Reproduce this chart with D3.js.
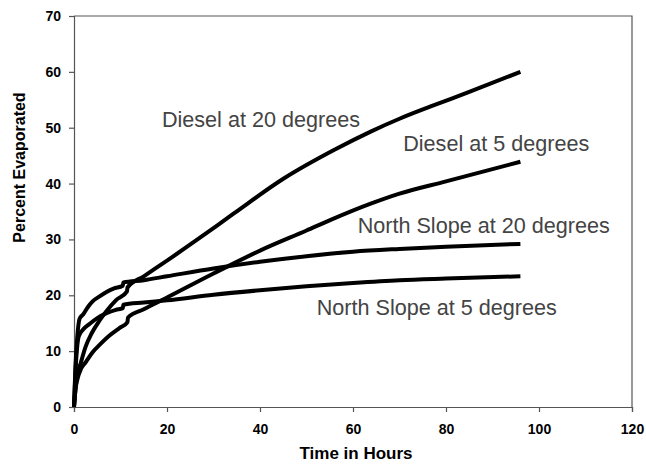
<!DOCTYPE html>
<html>
<head>
<meta charset="utf-8">
<script src="https://cdn.jsdelivr.net/npm/d3@7"></script>
<style>
  body { margin: 0; background: #fff; }
  text { font-family: Arial, "Liberation Sans", sans-serif; }
</style>
</head>
<body>
<svg id="svg1" width="646" height="464"></svg>
<script>
"use strict";

// values (hours, percent evaporated)
// a repeated-ish hour is where the two data sets were joined (the little kink near 11 h)
const diesel20Hours = [0, 0.3, 0.6, 1.5, 2.5, 3.8, 5.5, 7, 9, 11.4, 11.5, 15, 20, 26.4, 34.3, 45.1, 55.9, 63.8, 70, 76.7, 85, 96];
const diesel20Pct   = [0, 3, 5.2, 8, 10.8, 13.2, 15.5, 17.2, 19.1, 20.7, 21.4, 23.4, 26.2, 29.9, 34.6, 40.9, 46.0, 49.3, 51.6, 53.8, 56.4, 60.0];

const diesel5Hours = [0, 0.3, 0.8, 1.5, 2.5, 4, 5.6, 7.5, 9.9, 11.5, 11.6, 15, 20, 30, 40, 50, 55.2, 63.8, 70, 80, 96];
const diesel5Pct   = [0, 3, 5.2, 6.8, 8, 9.8, 11.2, 12.7, 14.2, 15.2, 16.0, 17.5, 19.6, 23.9, 28.0, 31.6, 33.5, 36.4, 38.2, 40.4, 43.9];

const northSlope20Hours = [0, 0.3, 0.7, 1.2, 2, 3, 4, 5.5, 7, 8.5, 10.5, 10.6, 15, 20, 30, 40, 50, 60, 70, 80, 96];
const northSlope20Pct   = [0, 7, 12.5, 15.8, 16.6, 17.9, 18.9, 19.8, 20.6, 21.2, 21.7, 22.3, 22.7, 23.4, 24.8, 26.0, 27.0, 27.8, 28.3, 28.7, 29.2];

const northSlope5Hours = [0, 0.3, 0.6, 1, 2, 3.4, 5, 7, 9, 10.5, 10.6, 15, 20, 30, 40, 50, 60, 70, 80, 96];
const northSlope5Pct   = [0, 6, 10, 12.6, 13.9, 14.9, 15.9, 16.8, 17.4, 17.7, 18.3, 18.7, 19.1, 20.1, 20.9, 21.6, 22.2, 22.7, 23.0, 23.4];

const seriesNames = ["Diesel at 20 degrees", "Diesel at 5 degrees", "North Slope at 20 degrees", "North Slope at 5 degrees"];
const xTicks = [0, 20, 40, 60, 80, 100, 120];
const yTicks = [0, 10, 20, 30, 40, 50, 60, 70];

const seriesHours = [diesel20Hours, diesel5Hours, northSlope20Hours, northSlope5Hours];
const seriesPct   = [diesel20Pct, diesel5Pct, northSlope20Pct, northSlope5Pct];

// where the in-plot labels sit (hours, percent) - placed by eye
const labelAt = [[18.9, 50.1], [70.8, 45.9], [61, 31.2], [52.2, 16.5]];

const svg    = d3.select("#svg1"),
      margin = {top: 16, right: 14, bottom: 57, left: 74},
      width  = +svg.attr("width")  - margin.left - margin.right,
      height = +svg.attr("height") - margin.top  - margin.bottom,
      x      = d3.scaleLinear().domain([0, 120]).range([0, width]),
      y      = d3.scaleLinear().domain([0, 70]).range([height, 0]),
      g      = svg.append("g").attr("transform", `translate(${margin.left},${margin.top})`);

// box round the plot (top + right edges)
g.append("path")
  .attr("d", `M0,0H${width}V${height}`)
  .attr("fill", "none")
  .attr("stroke", "#555")
  .attr("stroke-width", 1.2);

const xAxis = g.append("g")
  .attr("transform", `translate(0,${height})`)
  .call(d3.axisBottom(x).tickValues(xTicks).tickSize(5).tickPadding(12));

const yAxis = g.append("g")
  .call(d3.axisLeft(y).tickValues(yTicks).tickSize(5).tickPadding(8));

[xAxis, yAxis].forEach(a => {
  a.select(".domain").attr("stroke", "#555").attr("stroke-width", 1.2);
  a.selectAll(".tick line").attr("stroke", "#555").attr("stroke-width", 1.2);
  a.selectAll(".tick text")
    .attr("fill", "#000")
    .style("font-size", "14px")
    .style("font-weight", "bold")
    .style("font-family", "Arial, 'Liberation Sans', sans-serif");
});

// the four curves
const line = d3.line()
  .x(d => x(d[0]))
  .y(d => y(d[1]))
  .curve(d3.curveMonotoneX);

seriesHours.forEach((hrs, i) => {
  const pts = hrs.map((h, j) => [h, seriesPct[i][j]]);
  g.append("path")
    .datum(pts)
    .attr("fill", "none")
    .attr("stroke", "#000")
    .attr("stroke-width", 4)
    .attr("stroke-linejoin", "round")
    .attr("d", line);
});

// labels next to the curves
seriesNames.forEach((name, i) => {
  g.append("text")
    .attr("x", x(labelAt[i][0]))
    .attr("y", y(labelAt[i][1]))
    .attr("fill", "#444")
    .style("font-size", "21.6px")
    .text(name);
});

// axis titles
svg.append("text")
  .attr("x", margin.left + x(60) + 3)
  .attr("y", 459)
  .attr("text-anchor", "middle")
  .style("font-size", "17px")
  .style("font-weight", "bold")
  .text("Time in Hours");

svg.append("text")
  .attr("transform", "rotate(-90)")
  .attr("x", -(margin.top + height / 2) + 44)
  .attr("y", 25)
  .attr("text-anchor", "middle")
  .style("font-size", "16px")
  .style("font-weight", "bold")
  .text("Percent Evaporated");
</script>
</body>
</html>
